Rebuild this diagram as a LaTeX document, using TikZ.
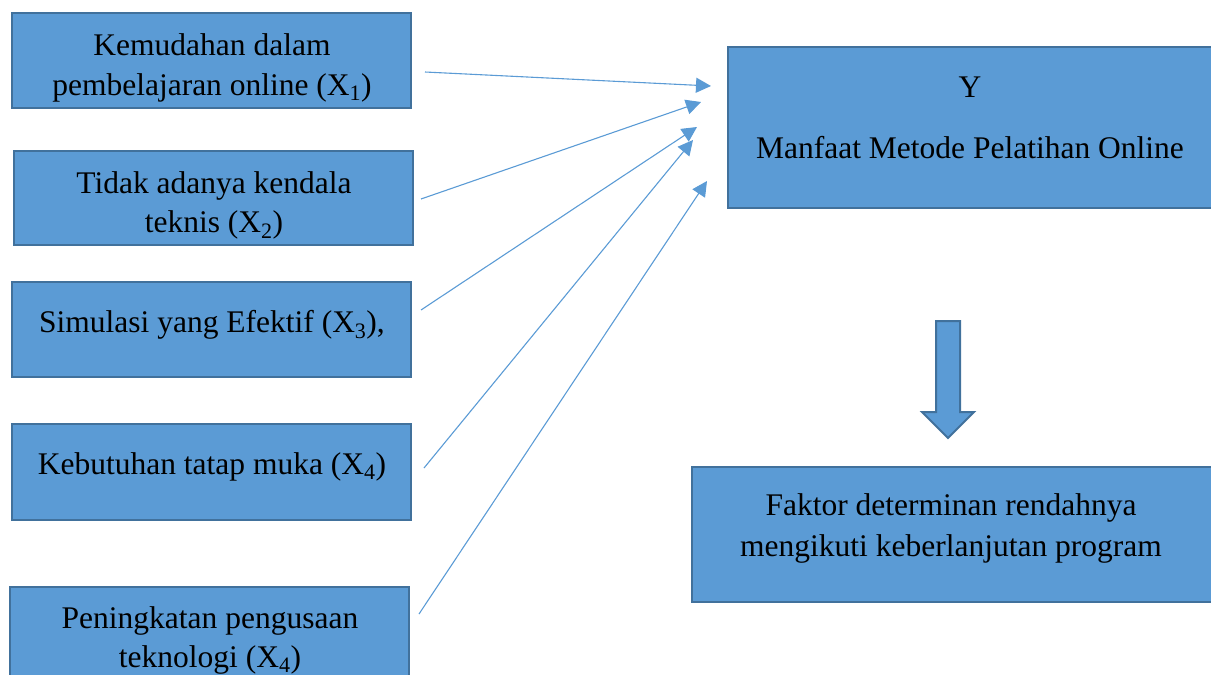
\documentclass[tikz,border=0pt]{standalone}
\usepackage{fontspec}
\setmainfont{Liberation Serif}
\usetikzlibrary{arrows.meta}
\definecolor{boxfill}{HTML}{5B9BD5}
\definecolor{boxline}{HTML}{41719C}
\begin{document}
\begin{tikzpicture}[x=1pt,y=-1pt,
  box/.style={draw=boxline,line width=2pt,fill=boxfill,rectangle,inner sep=0pt},
  lbl/.style={anchor=base,inner sep=0pt,font=\fontsize{31.5}{38}\selectfont},
  conn/.style={draw=boxfill,line width=1.1pt,-{Triangle[length=15pt,width=15pt]}}]
\useasboundingbox (0,0) rectangle (1211,675);
% left boxes
\node[box,minimum width=399pt,minimum height=95pt] (b1) at (211.5,60.5) {};
\node[box,minimum width=399pt,minimum height=94pt] (b2) at (213.5,198) {};
\node[box,minimum width=399pt,minimum height=95pt] (b3) at (211.5,329.5) {};
\node[box,minimum width=399pt,minimum height=96pt] (b4) at (211.5,472) {};
\node[box,minimum width=399pt,minimum height=113pt] (b5) at (209.5,643.5) {};
% right boxes
\node[box,minimum width=492pt,minimum height=161pt] (y) at (974,127.5) {};
\node[box,minimum width=528pt,minimum height=135pt] (f) at (956,534.5) {};
% texts
\node[lbl] (t1a) at (212,55) {Kemudahan dalam};
\node[lbl] (t1b) at (212,95) {pembelajaran online (X\textsubscript{1})};
\node[lbl] (t2a) at (214,193) {Tidak adanya kendala};
\node[lbl] (t2b) at (214,232) {teknis (X\textsubscript{2})};
\node[lbl] (t3) at (212,332) {Simulasi yang Efektif (X\textsubscript{3}),};
\node[lbl] (t4) at (212,474) {Kebutuhan tatap muka (X\textsubscript{4})};
\node[lbl] (t5a) at (210,628) {Peningkatan pengusaan};
\node[lbl] (t5b) at (210,667) {teknologi (X\textsubscript{4})};
\node[lbl] (ty1) at (970,97) {Y};
\node[lbl] (ty2) at (970,158) {Manfaat Metode Pelatihan Online};
\node[lbl] (tf1) at (951,515) {Faktor determinan rendahnya};
\node[lbl] (tf2) at (951,556) {mengikuti keberlanjutan program};
% connector endpoints
\coordinate (s1) at (425,72);  \coordinate (e1) at (711,86);
\coordinate (s2) at (421,199); \coordinate (e2) at (701,102);
\coordinate (s3) at (421,310); \coordinate (e3) at (697,127);
\coordinate (s4) at (424,468); \coordinate (e4) at (693,140);
\coordinate (s5) at (419,614); \coordinate (e5) at (707,181);
\draw[conn] (s1) -- (e1);
\draw[conn] (s2) -- (e2);
\draw[conn] (s3) -- (e3);
\draw[conn] (s4) -- (e4);
\draw[conn] (s5) -- (e5);
% block down arrow
\draw[boxline,line width=2pt,fill=boxfill,line join=miter]
  (936,321) -- (960,321) -- (960,412) -- (974,412) -- (948,438) -- (922,412) -- (936,412) -- cycle;
\end{tikzpicture}
\end{document}
